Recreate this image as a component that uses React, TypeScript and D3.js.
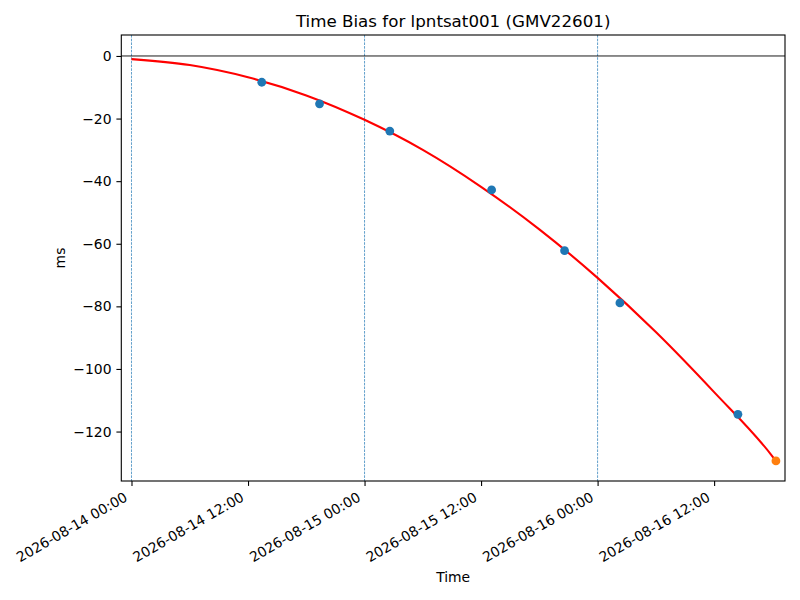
import { useEffect, useRef } from "react";
import * as d3 from "d3";

// ---------------------------------------------------------------------------
// Data
// ---------------------------------------------------------------------------

const TITLE = "Time Bias for lpntsat001 (GMV22601)";

// fitted curve, sampled every 6 hours
const FIT_TIMES = [
  "2026-08-14T00:00:00Z",
  "2026-08-14T06:00:00Z",
  "2026-08-14T12:00:00Z",
  "2026-08-14T18:00:00Z",
  "2026-08-15T00:00:00Z",
  "2026-08-15T06:00:00Z",
  "2026-08-15T12:00:00Z",
  "2026-08-15T18:00:00Z",
  "2026-08-16T00:00:00Z",
  "2026-08-16T06:00:00Z",
  "2026-08-16T12:00:00Z",
  "2026-08-16T18:00:00Z",
  "2026-08-16T18:22:00Z",
];
const FIT_VALUES = [-1.0, -2.9, -6.8, -12.6, -20.4, -30.0, -41.8, -55.4, -70.9, -88.2, -107.4, -127.9, -129.4];

// measured points
const OBS_TIMES = [
  "2026-08-14T13:25:00Z",
  "2026-08-14T19:22:00Z",
  "2026-08-15T02:36:00Z",
  "2026-08-15T13:05:00Z",
  "2026-08-15T20:36:00Z",
  "2026-08-16T02:18:00Z",
  "2026-08-16T14:27:00Z",
];
const OBS_VALUES = [-8.4, -15.3, -24.0, -42.8, -62.2, -78.9, -114.5];

// latest point (highlighted)
const LAST_TIMES = ["2026-08-16T18:22:00Z"];
const LAST_VALUES = [-129.4];

const DAY_MARKS = ["2026-08-14T00:00:00Z", "2026-08-15T00:00:00Z", "2026-08-16T00:00:00Z"];

const X_TICKS = [
  "2026-08-14T00:00:00Z",
  "2026-08-14T12:00:00Z",
  "2026-08-15T00:00:00Z",
  "2026-08-15T12:00:00Z",
  "2026-08-16T00:00:00Z",
  "2026-08-16T12:00:00Z",
];
const Y_TICKS = [0, -20, -40, -60, -80, -100, -120];

const X_DOMAIN = ["2026-08-13T22:57:00Z", "2026-08-16T19:18:00Z"];
const Y_DOMAIN = [-135.8, 6.7];

// ---------------------------------------------------------------------------
// Component
// ---------------------------------------------------------------------------

const W = 800;
const H = 600;
const FONT = "DejaVu Sans, sans-serif";

export default function App() {
  const svgRef = useRef<SVGSVGElement>(null);

  useEffect(() => {
    const svg = d3.select(svgRef.current);
    svg.selectAll("*").remove();

    const left = 121.3;
    const right = 785;
    const top = 35;
    const bottom = 481;

    const x = d3
      .scaleUtc()
      .domain(X_DOMAIN.map((d) => new Date(d)))
      .range([left, right]);
    const y = d3.scaleLinear().domain(Y_DOMAIN).range([bottom, top]);

    svg.append("rect").attr("width", W).attr("height", H).attr("fill", "#fff");

    const plot = svg.append("g");

    // ---- day separators ----
    plot
      .selectAll("line.day")
      .data(DAY_MARKS)
      .join("line")
      .attr("class", "day")
      .attr("x1", (d) => x(new Date(d)))
      .attr("x2", (d) => x(new Date(d)))
      .attr("y1", top)
      .attr("y2", bottom)
      .attr("stroke", "#1f77b4")
      .attr("stroke-width", 0.7)
      .attr("stroke-dasharray", "2.6,1.1");

    // ---- zero line ----
    plot
      .append("line")
      .attr("x1", left)
      .attr("x2", right)
      .attr("y1", y(0))
      .attr("y2", y(0))
      .attr("stroke", "#000")
      .attr("stroke-width", 0.9);

    // ---- fit curve ----
    const fit = FIT_TIMES.map((t, i) => ({ t: new Date(t), v: FIT_VALUES[i] }));
    const line = d3
      .line<{ t: Date; v: number }>()
      .x((d) => x(d.t))
      .y((d) => y(d.v))
      .curve(d3.curveMonotoneX);
    plot
      .append("path")
      .datum(fit)
      .attr("d", line)
      .attr("fill", "none")
      .attr("stroke", "#ff0000")
      .attr("stroke-width", 2.1);

    // ---- points ----
    plot
      .selectAll("circle.obs")
      .data(OBS_TIMES.map((t, i) => ({ t: new Date(t), v: OBS_VALUES[i] })))
      .join("circle")
      .attr("class", "obs")
      .attr("cx", (d) => x(d.t))
      .attr("cy", (d) => y(d.v))
      .attr("r", 4.4)
      .attr("fill", "#1f77b4");

    plot
      .selectAll("circle.last")
      .data(LAST_TIMES.map((t, i) => ({ t: new Date(t), v: LAST_VALUES[i] })))
      .join("circle")
      .attr("class", "last")
      .attr("cx", (d) => x(d.t))
      .attr("cy", (d) => y(d.v))
      .attr("r", 4.4)
      .attr("fill", "#ff7f0e");

    // ---- frame ----
    svg
      .append("rect")
      .attr("x", left)
      .attr("y", top)
      .attr("width", right - left)
      .attr("height", bottom - top)
      .attr("fill", "none")
      .attr("stroke", "#000")
      .attr("stroke-width", 1.1);

    // ---- x axis ----
    const fmt = d3.utcFormat("%Y-%m-%d %H:%M");
    const xAxis = d3
      .axisBottom(x)
      .tickValues(X_TICKS.map((d) => new Date(d)))
      .tickFormat((d) => fmt(d as Date))
      .tickSize(4.9)
      .tickPadding(0);
    svg
      .append("g")
      .attr("transform", `translate(0,${bottom})`)
      .call(xAxis)
      .call((sel) => sel.select(".domain").remove())
      .call((sel) => sel.selectAll("line").attr("stroke", "#000").attr("stroke-width", 1.1))
      .call((sel) =>
        sel
          .selectAll("text")
          .attr("font-family", FONT)
          .attr("font-size", 13.9)
          .attr("fill", "#000")
          .attr("text-anchor", "end")
          .attr("dy", null)
          .attr("y", null)
          .attr("transform", "translate(-3.5,19) rotate(-30)")
      );

    // ---- y axis ----
    const yAxis = d3
      .axisLeft(y)
      .tickValues(Y_TICKS)
      .tickFormat(d3.format("d"))
      .tickSize(4.9)
      .tickPadding(4.9);
    svg
      .append("g")
      .attr("transform", `translate(${left},0)`)
      .call(yAxis)
      .call((sel) => sel.select(".domain").remove())
      .call((sel) => sel.selectAll("line").attr("stroke", "#000").attr("stroke-width", 1.1))
      .call((sel) =>
        sel
          .selectAll("text")
          .attr("font-family", FONT)
          .attr("font-size", 13.9)
          .attr("fill", "#000")
      );

    // ---- labels ----
    svg
      .append("text")
      .attr("x", (left + right) / 2)
      .attr("y", 27)
      .attr("text-anchor", "middle")
      .attr("font-family", FONT)
      .attr("font-size", 16.7)
      .attr("fill", "#000")
      .text(TITLE);

    svg
      .append("text")
      .attr("x", (left + right) / 2)
      .attr("y", 582)
      .attr("text-anchor", "middle")
      .attr("font-family", FONT)
      .attr("font-size", 13.9)
      .attr("fill", "#000")
      .text("Time");

    svg
      .append("text")
      .attr("transform", `translate(65,${(top + bottom) / 2}) rotate(-90)`)
      .attr("text-anchor", "middle")
      .attr("font-family", FONT)
      .attr("font-size", 13.9)
      .attr("fill", "#000")
      .text("ms");
  }, []);

  return (
    <div style={{ position: "fixed", left: 0, top: 0 }}>
      <svg ref={svgRef} width={W} height={H} style={{ display: "block" }} />
    </div>
  );
}
